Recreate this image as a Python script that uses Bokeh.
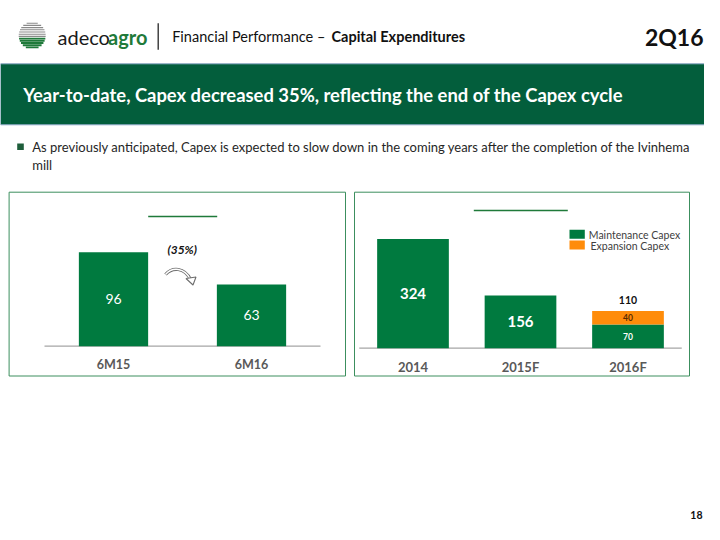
from bokeh.plotting import figure
from bokeh.models import Range1d
from bokeh.embed import file_html
from bokeh.resources import INLINE
from bokeh.core.properties import value
import numpy as np

# ---------------- data ----------------
ytd_periods = ["6M15", "6M16"]
ytd_capex = [96, 63]
ytd_change = "(35%)"

years = ["2014", "2015F", "2016F"]
maintenance_capex = [324, 156, 70]
expansion_capex = [0, 0, 40]
series_names = ["Maintenance Capex", "Expansion Capex"]

section = "Financial Performance \u2013 "
section_bold = "Capital Expenditures"
quarter = "2Q16"
headline = "Year-to-date, Capex decreased 35%, reflecting the end of the Capex cycle"
bullet_lines = ["As previously anticipated, Capex is expected to slow down in the coming years after the completion of the Ivinhema",
                "mill"]
page_no = "18"

# ---------------- style ----------------
GREEN = "#007A3F"
DARK_GREEN = "#035E3C"
ORANGE = "#FF8C0A"
GRAY_LBL = "#595959"
FONT = value("Lato")

W, H = 704, 524
p = figure(width=W, height=H, output_backend="svg", toolbar_location=None,
           x_range=Range1d(0, W), y_range=Range1d(H, 0),
           min_border=0, outline_line_color=None, background_fill_color="white",
           border_fill_color="white")
p.axis.visible = False
p.grid.visible = False


def chart_ranges(x0, dx, base, k):
    # numeric category index / value scales positioned inside the page
    return (Range1d((0 - x0) / dx, (W - x0) / dx),
            Range1d((base - H) / k, (base - 0) / k))


lx, ly = chart_ranges(113, 138, 345.7, 0.979)
rx, ry = chart_ranges(412.5, 107.5, 347.7, 0.3374)
p.extra_x_ranges = {"lx": lx, "rx": rx}
p.extra_y_ranges = {"ly": ly, "ry": ry}

# ---------------- header ----------------
# logo
cx, cy, r = 31.7, 35.0, 13.5
ys = np.arange(cy - r + 1.2, cy + r, 2.2)
half = np.sqrt(np.clip(r ** 2 - (ys - cy) ** 2, 0, None))
top = ys < cy + 1
p.segment(x0=list(cx - half[top]), x1=list(cx + half[top]), y0=list(ys[top]), y1=list(ys[top]),
          line_color="#8A8A8A", line_width=1.1)
p.segment(x0=list(cx - half[~top]), x1=list(cx + half[~top]), y0=list(ys[~top]), y1=list(ys[~top]),
          line_color="#1F7A3A", line_width=1.9)
p.text(x=[57], y=[36], text=["adeco"], text_font=FONT, text_font_size="20px",
       text_color="#1a1a1a", text_baseline="middle", text_align="left")
p.text(x=[107.5], y=[36], text=["agro"], text_font=FONT, text_font_size="20px",
       text_font_style="bold", text_color="#1F7A3A", text_baseline="middle", text_align="left")
p.segment(x0=[157.7], x1=[157.7], y0=[22.7], y1=[49.3], line_color="#262626", line_width=1.3)
p.text(x=[171.7], y=[36], text=[section], text_font=FONT, text_font_size="14.5px",
       text_color="#111111", text_baseline="middle", text_align="left")
p.text(x=[331], y=[36], text=[section_bold], text_font=FONT, text_font_size="14.5px",
       text_font_style="bold", text_color="#111111", text_baseline="middle", text_align="left")
p.text(x=[703], y=[36], text=[quarter], text_font=FONT, text_font_size="23px",
       text_font_style="bold", text_color="#111111", text_baseline="middle", text_align="right")

# banner
p.quad(left=[0], right=[W], top=[63.3], bottom=[124.3], fill_color=DARK_GREEN,
       line_color="#8EA9C8", line_width=1)
p.text(x=[22.7], y=[94], text=[headline], text_font=FONT, text_font_size="18.4px",
       text_font_style="bold", text_color="white", text_baseline="middle", text_align="left")

# bullet
p.quad(left=[16.7], right=[23.3], top=[143], bottom=[149.5], fill_color="#1E5E3B", line_color=None)
p.text(x=[31.7, 31.7], y=[146, 164], text=bullet_lines, text_font=FONT, text_font_size="13px",
       text_color="#262626", text_baseline="middle", text_align="left")

# ---------------- chart boxes ----------------
p.quad(left=[8.6, 354], right=[345, 689], top=[191.7, 191.7], bottom=[375.5, 375.5],
       fill_color=None, line_color="#3C8F5E", line_width=1)
# green title rules
p.segment(x0=[147.7, 473.3], x1=[216.7, 567.3], y0=[216, 210], y1=[216, 210],
          line_color="#1F7A3A", line_width=1.5)

# ---------------- left chart ----------------
li = list(range(len(ytd_periods)))
p.segment(x0=[-0.5], x1=[len(li) - 0.5], y0=[0], y1=[0], x_range_name="lx", y_range_name="ly",
          line_color="#A6A6A6", line_width=1.3)
p.vbar(x=li, top=ytd_capex, bottom=0, width=0.502, fill_color=GREEN, line_color=None,
       x_range_name="lx", y_range_name="ly")
p.text(x=li, y=[v / 2 for v in ytd_capex], text=[str(v) for v in ytd_capex],
       x_range_name="lx", y_range_name="ly", text_font=FONT, text_font_size="14px",
       text_color="white", text_align="center", text_baseline="middle")
p.text(x=li, y=[364] * len(li), text=ytd_periods, x_range_name="lx",
       text_font=FONT, text_font_size="12.5px", text_font_style="bold", text_color=GRAY_LBL,
       text_align="center", text_baseline="middle")
p.text(x=[181.7], y=[249], text=[ytd_change], text_font=FONT, text_font_size="12px",
       text_font_style="bold italic", text_color="#111111", text_align="center", text_baseline="middle")
# curved arrow
p.bezier(x0=[165], y0=[274], x1=[190], y1=[279], cx0=[172], cy0=[266], cx1=[184], cy1=[267],
         line_color="#6E6E6E", line_width=3.2)
p.bezier(x0=[165], y0=[274], x1=[190], y1=[279], cx0=[172], cy0=[266], cx1=[184], cy1=[267],
         line_color="white", line_width=1.4)
p.patch(x=[185.5, 195.5, 192.5], y=[278, 276.5, 284.5], fill_color="white", line_color="#6E6E6E",
        line_width=1.1)

# ---------------- right chart ----------------
ri = list(range(len(years)))
totals = [m + e for m, e in zip(maintenance_capex, expansion_capex)]
p.segment(x0=[-0.5], x1=[len(ri) - 0.5], y0=[0], y1=[0], x_range_name="rx", y_range_name="ry",
          line_color="#A6A6A6", line_width=1.3)
p.vbar(x=ri, top=maintenance_capex, bottom=0, width=0.667, fill_color=GREEN, line_color=None,
       x_range_name="rx", y_range_name="ry")
ei = [i for i in ri if expansion_capex[i] > 0]
p.vbar(x=ei, bottom=[maintenance_capex[i] for i in ei], top=[totals[i] for i in ei], width=0.667,
       fill_color=ORANGE, line_color=None, x_range_name="rx", y_range_name="ry")

si = [i for i in ri if expansion_capex[i] == 0]
p.text(x=si, y=[maintenance_capex[i] / 2 for i in si], text=[str(maintenance_capex[i]) for i in si],
       x_range_name="rx", y_range_name="ry", text_font=FONT, text_font_size="15px",
       text_font_style="bold", text_color="white", text_align="center", text_baseline="middle")
p.text(x=ei, y=[maintenance_capex[i] / 2 for i in ei], text=[str(maintenance_capex[i]) for i in ei],
       x_range_name="rx", y_range_name="ry", text_font=FONT, text_font_size="8.5px",
       text_font_style="bold", text_color="white", text_align="center", text_baseline="middle")
p.text(x=ei, y=[maintenance_capex[i] + expansion_capex[i] / 2 for i in ei],
       text=[str(expansion_capex[i]) for i in ei],
       x_range_name="rx", y_range_name="ry", text_font=FONT, text_font_size="8.5px",
       text_font_style="bold", text_color="#5A2A00", text_align="center", text_baseline="middle")
p.text(x=ei, y=[totals[i] for i in ei], text=[str(totals[i]) for i in ei], y_offset=-11,
       x_range_name="rx", y_range_name="ry", text_font=FONT, text_font_size="10.5px",
       text_font_style="bold", text_color="#111111", text_align="center", text_baseline="middle")
p.text(x=ri, y=[366] * len(ri), text=years, x_range_name="rx",
       text_font=FONT, text_font_size="13px", text_font_style="bold", text_color=GRAY_LBL,
       text_align="center", text_baseline="middle")

# legend
p.quad(left=[569, 569], right=[584.3, 584.3], top=[229.3, 240], bottom=[238.3, 249],
       fill_color=[GREEN, ORANGE], line_color=None)
p.text(x=[588.3, 590], y=[234, 245], text=series_names, text_font=FONT, text_font_size="10.5px",
       text_color="#404040", text_align="left", text_baseline="middle")

# page number
p.text(x=[702], y=[514], text=[page_no], text_font=FONT, text_font_size="10.5px",
       text_font_style="bold", text_color="#111111", text_align="right", text_baseline="middle")

open("out.html", "w").write(file_html(p, INLINE))
